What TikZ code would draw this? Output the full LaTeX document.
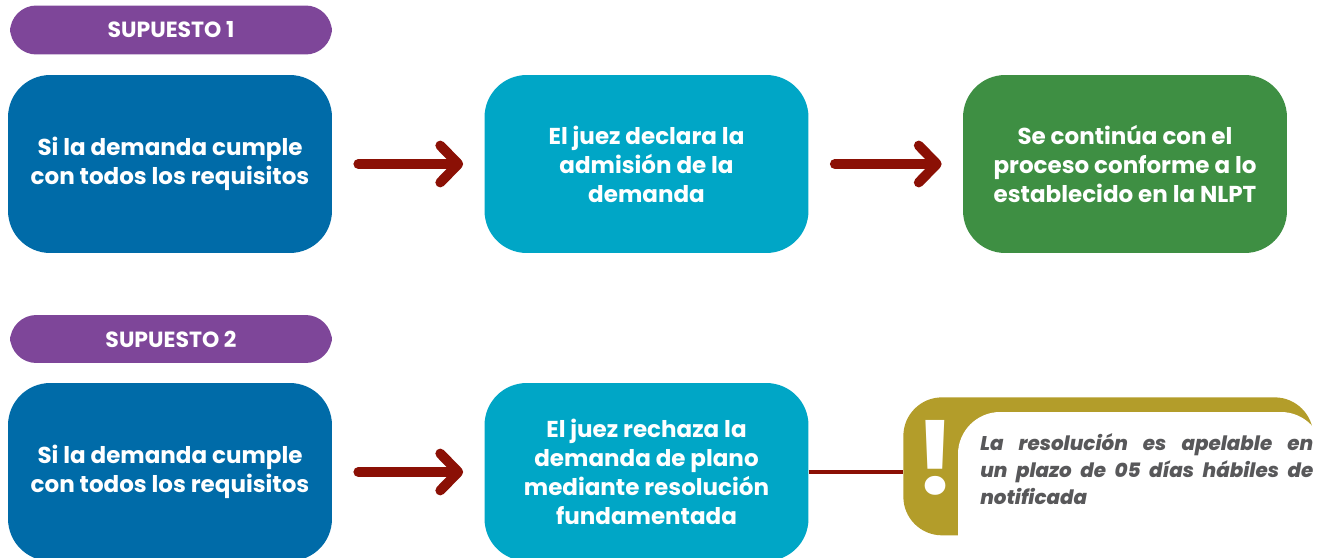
\documentclass[tikz,border=0pt]{standalone}
\usepackage{fontspec}
\setmainfont{Poppins}
\newfontfamily\notafont{Poppins ExtraBold Italic}
\usetikzlibrary{arrows.meta,positioning}
\definecolor{supuestoC}{HTML}{7E4699}
\definecolor{azulC}{HTML}{006BA8}
\definecolor{celesteC}{HTML}{00A6C6}
\definecolor{verdeC}{HTML}{3E8F43}
\definecolor{flechaC}{HTML}{8B1005}
\definecolor{oroC}{HTML}{B39D2A}
\definecolor{notaC}{HTML}{58585A}
\tikzset{
supuesto/.style={fill=supuestoC,rounded corners=15,minimum width=6.44cm,minimum height=0.98cm,text=white,font=\bfseries\fontsize{12.5}{14}\selectfont},
caja/.style={rounded corners=24,minimum width=6.48cm,minimum height=3.56cm,align=center,text=white,font=\bfseries\fontsize{13.1}{16.5}\selectfont},
avance/.style={-{Straight Barb[length=3.6mm,width=7.4mm,round]},line width=5.6pt,line cap=round,flechaC,shorten <=0.52cm,shorten >=0.42cm},
enlace/.style={line width=2.2pt,flechaC}
}
\begin{document}
\begin{tikzpicture}[x=0.02cm,y=-0.02cm]
\useasboundingbox (0,0) rectangle (1323,558);
% supuesto 1
\node[supuesto](s1) at (171,30){SUPUESTO 1};
\node[caja,fill=azulC](req1) at (170,164){Si la demanda cumple\\con todos los requisitos};
\node[caja,fill=celesteC](adm) at (646.5,164){El juez declara la\\admisión de la\\demanda};
\node[caja,fill=verdeC](proc) at (1125,164){Se continúa con el\\proceso conforme a lo\\establecido en la NLPT};
\draw[avance](req1)--(adm);
\draw[avance](adm)--(proc);
% supuesto 2
\node[supuesto,minimum height=0.96cm](s2) at (171,339){SUPUESTO 2};
\node[caja,fill=azulC](req2) at (170,472){Si la demanda cumple\\con todos los requisitos};
\node[caja,fill=celesteC](rech) at (646.5,472){El juez rechaza la\\demanda de plano\\mediante resolución\\fundamentada};
\draw[avance](req2)--(rech);
% nota
\node[fill=oroC,rounded corners=22,minimum width=8.2cm,minimum height=2.76cm,anchor=north west](alerta) at (903,397){};
\fill[white,rounded corners=24] (958,558) -- (958,412) -- (1323,412) [sharp corners] -- (1323,558) -- cycle;
\node[text=white,font=\bfseries\fontsize{58}{58}\selectfont](excl) at (935,458){!};
\node[anchor=north west,text width=6.66cm,align=justify,text=notaC,font=\notafont\fontsize{11.3}{15.3}\selectfont,inner sep=0pt](nota) at (980,433){La resolución es apelable en\linebreak un plazo de 05 días hábiles de\linebreak notificada};
\draw[enlace](rech.east)--(rech.east -| alerta.west);
\end{tikzpicture}
\end{document}
